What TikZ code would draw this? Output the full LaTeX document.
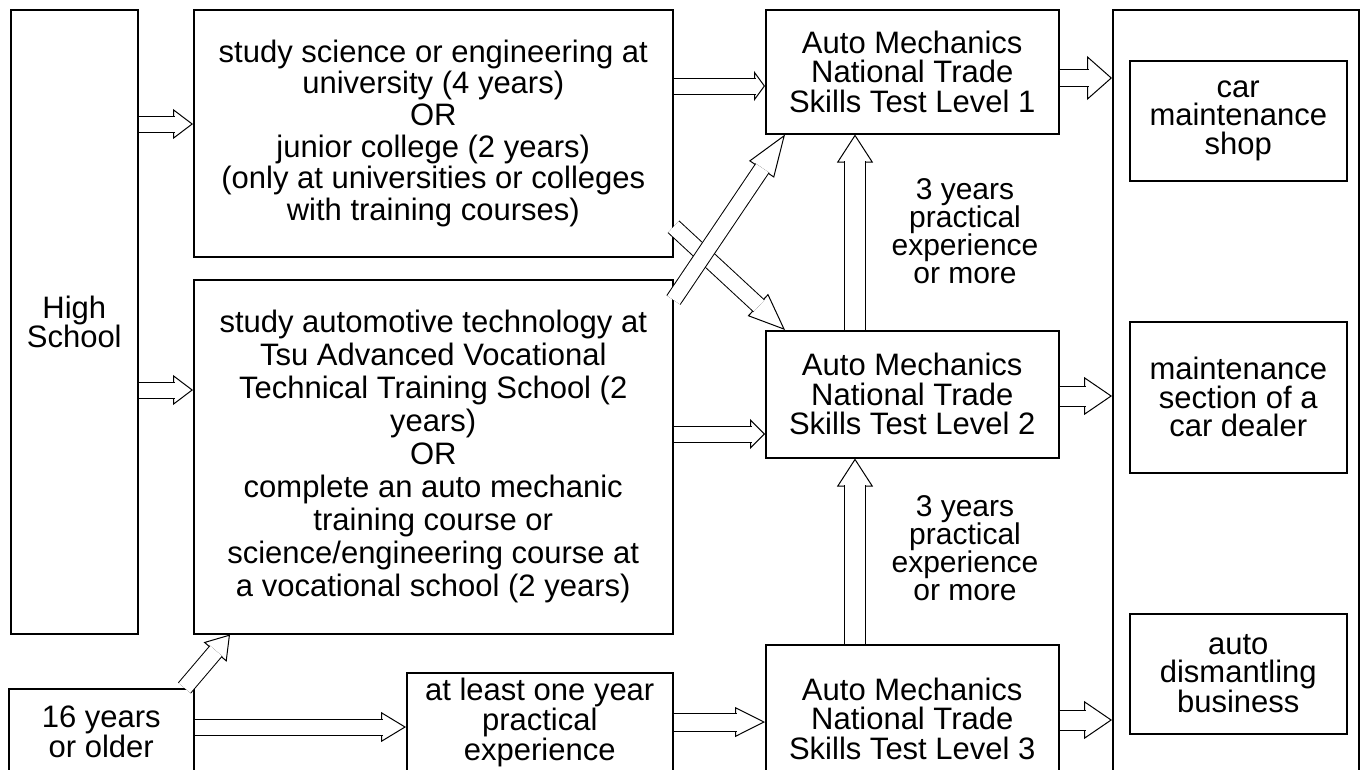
\documentclass[tikz,border=0pt]{standalone}
\usepackage{fontspec}
\setmainfont{Liberation Sans}
\usetikzlibrary{arrows.meta}

\tikzset{
  box/.style={draw, line width=1.5pt, inner sep=0pt, align=center, anchor=north west},
  txt/.style={inner sep=0pt, align=center},
  bigfont/.style={font=\fontsize{31}{31.6}\selectfont},
  lvlfont/.style={font=\fontsize{31}{29.5}\selectfont},
  smallfont/.style={font=\fontsize{31}{28.5}\selectfont},
  expfont/.style={font=\fontsize{30}{28}\selectfont},
}

% hollow block arrow: from, to, inner shaft width, tip length, tip width
\newcommand{\fatarrow}[5]{%
  \draw[line width=1pt, -{Triangle[open, length=#4pt, width=#5pt]}] #1 -- #2;
  \draw[line width=1pt, double, double distance=#3pt, shorten >=#4pt-1.5pt] #1 -- #2;
}

\begin{document}
\begin{tikzpicture}[x=1pt,y=-1pt]
\useasboundingbox (0,0) rectangle (1367,769);
\clip (0,0) rectangle (1367,769);

\node[box, font=\fontsize{31}{29}\selectfont, minimum width=127pt, minimum height=624pt] (high) at (10,9) {High\\School};

\node[box, bigfont, minimum width=479pt, minimum height=247pt] (uni) at (193,9)
  {study science or engineering at\\university (4 years)\\OR\\junior college (2 years)\\(only at universities or colleges\\with training courses)};

\node[box, font=\fontsize{31}{33}\selectfont, minimum width=479pt, minimum height=354pt] (voc) at (193,279)
  {study automotive technology at\\Tsu Advanced Vocational\\Technical Training School (2\\years)\\OR\\complete an auto mechanic\\training course or\\science/engineering course at\\a vocational school (2 years)};

\node[box, smallfont, minimum width=185pt, minimum height=86pt] (sixteen) at (8,688) {16 years\\or older};
\node[box, smallfont, minimum width=266pt, minimum height=100pt] (oneyear) at (406,672) {at least one year\\practical\\experience};

\node[box, lvlfont, minimum width=293pt, minimum height=124pt] (lvl1) at (765,9) {Auto Mechanics\\National Trade\\Skills Test Level 1};
\node[box, lvlfont, minimum width=293pt, minimum height=127pt] (lvl2) at (765,330) {Auto Mechanics\\National Trade\\Skills Test Level 2};
\node[box, lvlfont, minimum width=293pt, minimum height=148pt] (lvl3) at (765,644) {Auto Mechanics\\National Trade\\Skills Test Level 3};

\node[txt, expfont] (exp1) at (965,231) {3 years\\practical\\experience\\or more};
\node[txt, expfont] (exp2) at (965,548) {3 years\\practical\\experience\\or more};

\node[box, minimum width=246pt, minimum height=800pt] (jobs) at (1112,9) {};
\node[box, smallfont, minimum width=217pt, minimum height=120pt] (shop) at (1129,60) {car\\maintenance\\shop};
\node[box, smallfont, minimum width=217pt, minimum height=151pt] (dealer) at (1129,321) {maintenance\\section of a\\car dealer};
\node[box, smallfont, minimum width=217pt, minimum height=120pt] (dismantle) at (1129,613) {auto\\dismantling\\business};

\fatarrow{(high.east |- 0,124)}{(uni.west |- 0,124)}{15}{20}{30}
\fatarrow{(high.east |- 0,390)}{(voc.west |- 0,390)}{15}{20}{30}
\fatarrow{(uni.east |- 0,86)}{(lvl1.west |- 0,86)}{15}{11}{30}
\fatarrow{(voc.east |- 0,434)}{(lvl2.west |- 0,434)}{15}{15}{30}
\fatarrow{(sixteen.east |- 0,727)}{(oneyear.west |- 0,727)}{15}{25}{30}
\fatarrow{(oneyear.east |- 0,722)}{(lvl3.west |- 0,722)}{17}{30}{30}

\fatarrow{(lvl1.east |- 0,78)}{(jobs.west |- 0,78)}{16}{25}{44}
\fatarrow{(lvl2.east |- 0,396)}{(jobs.west |- 0,396)}{19}{28}{38}
\fatarrow{(lvl3.east |- 0,720)}{(jobs.west |- 0,720)}{19}{28}{38}

\fatarrow{(lvl2.north -| 855,0)}{(lvl1.south -| 855,0)}{20}{28}{36}
\fatarrow{(lvl3.north -| 855,0)}{(lvl2.south -| 855,0)}{20}{28}{36}

\fatarrow{([xshift=-10pt]sixteen.north east)}{([xshift=37pt]voc.south west)}{15}{23}{30}
\fatarrow{([yshift=-93.5pt]uni.east)}{([xshift=20pt]lvl2.north west)}{15}{37}{30}
\fatarrow{([yshift=-21pt]voc.north east)}{([xshift=20pt]lvl1.south west)}{15}{42}{30}

\end{tikzpicture}
\end{document}
